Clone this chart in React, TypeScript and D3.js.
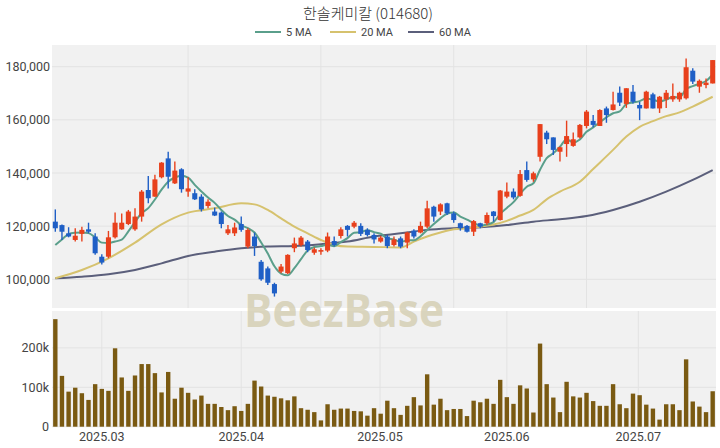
import React from 'react';
import * as d3 from 'd3';

const title = '한솔케미칼 (014680)';

const opens = [121700,120400,117300,114800,117100,118800,116100,108500,108500,115800,118800,120800,118800,123600,133600,131100,138400,145500,136100,141400,133000,132400,131100,127600,125500,125100,117300,117300,120800,112300,116100,106600,104100,98200,102900,102300,111700,112900,114200,110000,110400,110800,114400,116300,120100,119800,120100,118600,116700,114200,116100,112900,115400,113800,118300,117600,119800,127300,125500,128600,124800,121100,120100,117900,121100,121100,125500,122300,131100,133000,131400,141100,137600,146100,155200,153400,148000,150900,150200,153400,157700,159600,157700,164300,163700,170200,166000,170600,165600,164300,169600,164300,167700,167700,167700,168100,178500,172500,173100,173700];
const highs = [126300,120600,119600,119200,119800,121300,117300,109400,118200,125100,124800,126100,126700,133600,138900,139300,144100,148000,144300,141800,138400,133900,132000,130100,127000,125500,120400,121300,123600,119200,117600,107300,104800,98700,105800,109400,115700,116300,114800,112000,111700,117600,116100,119600,120400,121900,121100,119200,117300,116300,116700,116100,116100,117900,118800,121700,129600,127700,128600,128800,125500,121300,120400,122300,121300,125100,125700,133600,136400,134200,141100,144300,140500,158400,155900,153400,149900,159700,155200,158400,163700,161800,164000,165000,170600,172600,171900,173100,166800,171000,170200,169000,171200,173700,170600,183100,179400,175200,175600,182500];
const lows = [117900,114800,115800,114200,114200,117300,109200,105600,107900,115400,118600,120400,118300,121700,128600,131100,138000,134200,135900,132600,131100,129800,125500,126700,123800,119200,116700,116300,117900,111700,108800,99500,97900,93500,102300,102000,110200,112300,110200,109200,109200,110200,112300,115400,116100,119200,116300,116100,113500,113800,111700,112300,111700,111700,115400,117300,119200,121700,124200,124200,121300,118300,117600,116300,119200,120400,121700,122100,130500,130100,131100,136700,136700,144300,150900,146800,144300,146100,149900,153000,156800,157200,157700,158900,163500,165200,164500,166200,159900,164300,164300,162600,164500,166800,166800,167700,173500,170200,171900,173700];
const closes = [119200,117900,116100,116400,118600,117900,109800,106300,115800,121300,121300,125500,123600,133000,130500,137600,143900,138600,140900,133900,134200,130100,126300,129200,124000,120800,118800,119500,118600,118600,112500,100000,98700,94700,104800,109200,113500,115700,111000,111300,111000,116100,112900,118800,118600,121300,117100,116700,115000,115700,112500,115000,112300,117600,116100,120100,126700,123600,128200,124800,122300,119200,117900,121900,119800,124200,123800,133400,133000,130800,139600,137400,139900,158400,152700,148700,149700,153900,152700,158100,163100,158100,163700,161800,165800,166500,171900,166800,164300,170600,164300,168700,170200,169000,170200,179800,174400,174700,174000,182500];
const volumes = [273000,129000,89000,99000,85000,68000,108000,96000,91000,199000,125000,91000,130000,159000,159000,136000,87000,139000,71000,99000,86000,69000,79000,58000,58000,50000,42000,52000,40000,58000,117000,102000,79000,76000,72000,67000,77000,47000,43000,37000,16000,57000,43000,46000,46000,40000,39000,28000,47000,33000,66000,47000,30000,53000,75000,54000,133000,56000,71000,42000,45000,45000,27000,66000,62000,71000,58000,119000,75000,58000,105000,97000,36000,211000,108000,74000,37000,114000,77000,74000,86000,65000,53000,53000,108000,57000,47000,84000,80000,56000,46000,18000,57000,57000,42000,171000,64000,51000,37000,90000];

// 5-day MA values for the first four sessions (earlier sessions not shown)
const ma5Lead = [112900, 115000, 117000, 117500];
const ma20Index = [0,4,8,12,16,20,24,28,30,32,34,36,38,40,42,44,48,52,54,56,58,60,62,64,66,68,70,72,74,76,79,81,84,86,88,90,92,94,96,99];
const ma20Value = [100400,103500,107900,113800,120700,125100,126700,128600,128200,126100,122900,119800,117300,114800,112900,112300,112200,112000,114200,116100,117600,118800,119200,119800,120600,122000,124000,126100,130100,133000,136700,141500,148700,153700,157400,159500,161400,162800,165000,168700];
const ma60Index = [0,4,8,12,16,20,24,28,32,36,40,44,48,52,56,60,64,68,72,76,80,84,88,92,96,99];
const ma60Value = [100400,101000,101900,103500,106000,108800,110400,111700,112300,112500,113200,114200,116100,117300,118600,119200,119600,120400,121700,122600,123800,126100,129200,133000,137400,141100];

const priceTicks = [100000, 120000, 140000, 160000, 180000];
const priceGridIndex = [20, 40, 60, 80];
const volTicks = [0, 100000, 200000];
const volTickLabels = ['0', '100k', '200k'];
const monthLabels = ['2025.03', '2025.04', '2025.05', '2025.06', '2025.07'];
const monthIndex = [7, 28, 48.9, 68, 87.8];

const legendNames = ['5 MA', '20 MA', '60 MA'];

const W = 720, H = 448;
const UP = '#e8401c';
const DOWN = '#1f5fc6';
const MA_COLORS = ['#5a9f8b', '#d6c26e', '#5b5f7b'];
const FONT = "Roboto, 'Noto Sans', 'Noto Sans CJK KR', sans-serif";

export default function App() {
  const n = closes.length;
  const x = d3.scaleLinear().domain([-0.5, n - 0.5]).range([52, 716]);
  const y = d3.scaleLinear().domain([89200, 188170]).range([308, 45]);
  const yv = d3.scaleLinear().domain([0, 293700]).range([426.7, 311]);
  const step = x(1) - x(0);
  const bodyW = step * 0.76;
  const volW = step * 0.66;

  const ma5 = closes.map((_, i) =>
    i < 4 ? ma5Lead[i] : d3.mean(closes.slice(i - 4, i + 1)) as number
  );
  const line = d3.line<[number, number]>()
    .x(d => x(d[0]))
    .y(d => y(d[1]))
    .curve(d3.curveMonotoneX);
  const ma5Path = line(ma5.map((v, i) => [i, v]));
  const ma20Path = line(ma20Index.map((k, j) => [k, ma20Value[j]]));
  const ma60Path = line(ma60Index.map((k, j) => [k, ma60Value[j]]));

  const px0 = x.range()[0], px1 = x.range()[1];
  const legendX = [255, 330, 408];

  return (
    <svg width={W} height={H} style={{ display: 'block', position: 'absolute', left: 0, top: 0, background: '#fff' }}
      fontFamily={FONT}>
      <text x={W / 2 + 8} y={19} textAnchor="middle" fontSize={15} fill="#333" fontFamily="'Noto Sans CJK KR', sans-serif" fontWeight={300}>{title}</text>
      {legendNames.map((nm, i) => (
        <g key={nm}>
          <line x1={legendX[i]} x2={legendX[i] + 26} y1={32} y2={32} stroke={MA_COLORS[i]} strokeWidth={2} />
          <text x={legendX[i] + 31} y={36} fontSize={11} fill="#444">{nm}</text>
        </g>
      ))}

      {/* panels */}
      <rect x={px0} y={45} width={px1 - px0} height={263} fill="#f1f1f1" />
      <rect x={px0} y={311} width={px1 - px0} height={115.7} fill="#f1f1f1" />

      {priceTicks.map(t => (
        <g key={t}>
          <line x1={px0} x2={px1} y1={y(t)} y2={y(t)} stroke="#e3e3e3" strokeWidth={1} />
          <text x={50} y={y(t) + 4.5} textAnchor="end" fontSize={12.5} fill="#444">{d3.format(',')(t)}</text>
        </g>
      ))}
      {priceGridIndex.map(k => (
        <line key={k} x1={x(k)} x2={x(k)} y1={45} y2={308} stroke="#e3e3e3" strokeWidth={1} />
      ))}
      {volTicks.map((t, i) => (
        <g key={t}>
          <line x1={px0} x2={px1} y1={yv(t)} y2={yv(t)} stroke="#e3e3e3" strokeWidth={1} />
          <text x={49} y={yv(t) + 4.5} textAnchor="end" fontSize={12.5} fill="#444">{volTickLabels[i]}</text>
        </g>
      ))}
      {monthIndex.map((k, i) => (
        <g key={k}>
          <line x1={x(k)} x2={x(k)} y1={311} y2={426.7} stroke="#e3e3e3" strokeWidth={1} />
          <text x={x(k)} y={441} textAnchor="middle" fontSize={12.5} fill="#444">{monthLabels[i]}</text>
        </g>
      ))}

      <text x={344} y={327} textAnchor="middle" fontSize={46} fontWeight={700} fill="#d3ccaf" fillOpacity={0.8}
        textLength={200} lengthAdjust="spacingAndGlyphs" fontFamily="'Open Sans', Roboto, sans-serif">BeezBase</text>

      {/* volume bars */}
      {volumes.map((v, i) => (
        <rect key={i} x={x(i) - volW / 2} y={yv(v)} width={volW} height={yv(0) - yv(v)} fill="#7a5a12" />
      ))}

      {/* MA lines */}
      <path d={ma60Path || ''} fill="none" stroke={MA_COLORS[2]} strokeWidth={2} />
      <path d={ma20Path || ''} fill="none" stroke={MA_COLORS[1]} strokeWidth={2} />
      <path d={ma5Path || ''} fill="none" stroke={MA_COLORS[0]} strokeWidth={2} />

      {/* candles */}
      {closes.map((c, i) => {
        const o = opens[i];
        const up = c >= o;
        const col = up ? UP : DOWN;
        const top = y(Math.max(o, c));
        const bot = y(Math.min(o, c));
        return (
          <g key={i}>
            <line x1={x(i)} x2={x(i)} y1={y(highs[i])} y2={y(lows[i])} stroke={col} strokeWidth={1.4} />
            <rect x={x(i) - bodyW / 2} y={top} width={bodyW} height={Math.max(1.5, bot - top)} fill={col} />
          </g>
        );
      })}
    </svg>
  );
}
